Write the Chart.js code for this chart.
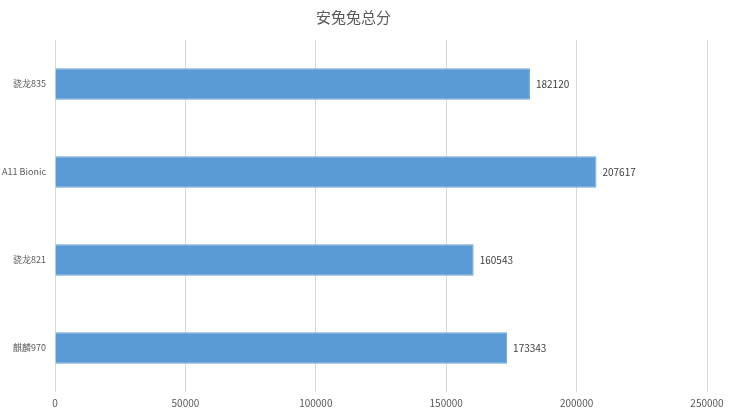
<!DOCTYPE html>
<html>
<head>
<meta charset="utf-8">
<script src="https://cdn.jsdelivr.net/npm/chart.js@4/dist/chart.umd.min.js"></script>
<style>
  html, body { margin: 0; padding: 0; background: #fff; }
  #wrap { width: 730px; height: 413px; }
</style>
</head>
<body>
<div id="wrap"><canvas id="scoreChart"></canvas></div>
<script>
// data
const chips = ['骁龙835', 'A11 Bionic', '骁龙821', '麒麟970'];
const scores = [182120, 207617, 160543, 173343];
const xTicks = [0, 50000, 100000, 150000, 200000, 250000];

const FONT = "'Noto Sans CJK SC', 'Noto Sans', sans-serif";

// value labels at bar ends
const barLabels = {
  id: 'barLabels',
  afterDatasetsDraw(chart) {
    const ctx = chart.ctx;
    const meta = chart.getDatasetMeta(0);
    ctx.save();
    ctx.font = '10px ' + FONT;
    ctx.fillStyle = '#404040';
    ctx.textAlign = 'left';
    ctx.textBaseline = 'middle';
    meta.data.forEach((bar, i) => {
      ctx.fillText(String(scores[i]), bar.x + 6, bar.y);
    });
    ctx.restore();
  }
};

new Chart(document.getElementById('scoreChart').getContext('2d'), {
  type: 'bar',
  data: {
    labels: chips,
    datasets: [{
      data: scores,
      backgroundColor: '#5b9bd5',
      borderColor: '#6fa8dc',
      borderWidth: 1,
      categoryPercentage: 0.36,
      barPercentage: 1
    }]
  },
  options: {
    indexAxis: 'y',
    responsive: true,
    maintainAspectRatio: false,
    animation: false,
    layout: { padding: { left: 0, right: 23, top: 0, bottom: 0 } },
    plugins: {
      legend: { display: false },
      tooltip: { enabled: false },
      title: {
        display: true,
        text: '安兔兔总分',
        color: '#595959',
        font: { family: FONT, size: 15, weight: 'normal' },
        padding: { top: 8, bottom: 14 }
      }
    },
    scales: {
      x: {
        min: 0,
        max: 250000,
        afterBuildTicks: axis => { axis.ticks = xTicks.map(v => ({ value: v })); },
        afterFit: axis => { axis.height = 21; },
        grid: { color: '#d9d9d9', drawTicks: false },
        border: { display: false },
        ticks: {
          color: '#595959',
          padding: 5,
          font: { family: FONT, size: 10 },
          callback: v => String(v)
        }
      },
      y: {
        afterFit: axis => { axis.width = 55; },
        grid: { display: false, drawTicks: false },
        border: { display: false },
        ticks: {
          color: '#595959',
          padding: 9,
          font: { family: FONT, size: 9 }
        }
      }
    }
  },
  plugins: [barLabels]
});
</script>
</body>
</html>
